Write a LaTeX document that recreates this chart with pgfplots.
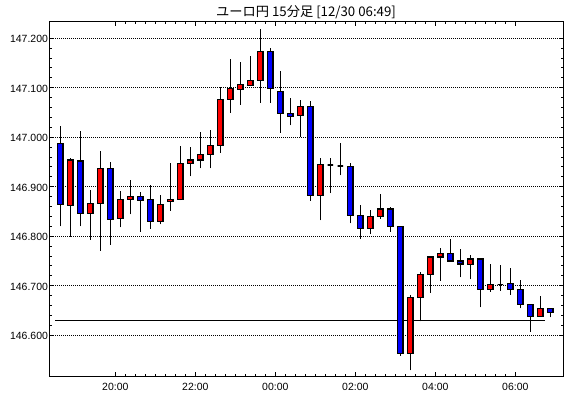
\documentclass[border=0pt]{standalone}
\usepackage{pgfplots}
\pgfplotsset{compat=1.18}
\usepackage{pgfplotstable}
\usepackage{fontspec}
\setmainfont{Liberation Sans}
\newfontfamily\jpfont{Noto Sans CJK JP}
\definecolor{cred}{RGB}{255,0,0}
\definecolor{cblue}{RGB}{0,0,255}
\pgfdeclareplotmark{nothing}{}
\pgfplotstableread{
x o h l c
0 146.988 147.023 146.820 146.865
1 146.863 146.958 146.798 146.954
2 146.952 147.013 146.820 146.846
3 146.846 146.894 146.793 146.867
4 146.867 146.972 146.771 146.937
5 146.937 146.950 146.783 146.834
6 146.836 146.892 146.818 146.875
7 146.875 146.914 146.844 146.881
8 146.881 146.889 146.809 146.873
9 146.875 146.904 146.815 146.830
10 146.830 146.884 146.824 146.865
11 146.871 146.947 146.852 146.875
12 146.875 146.982 146.873 146.947
13 146.947 146.980 146.921 146.954
14 146.954 147.010 146.937 146.966
15 146.966 147.015 146.937 146.984
16 146.984 147.101 146.969 147.077
17 147.077 147.158 147.050 147.099
18 147.097 147.152 147.066 147.107
19 147.105 147.164 147.103 147.115
20 147.115 147.219 147.070 147.174
21 147.174 147.180 147.070 147.099
22 147.093 147.133 147.009 147.048
23 147.048 147.079 147.024 147.042
24 147.044 147.075 147.000 147.063
25 147.063 147.073 146.872 146.883
26 146.883 146.958 146.832 146.945
27 146.944 146.958 146.887 146.944
28 146.942 146.988 146.923 146.942
29 146.941 146.947 146.826 146.842
30 146.842 146.863 146.794 146.816
31 146.816 146.853 146.804 146.840
32 146.839 146.886 146.835 146.855
33 146.855 146.859 146.809 146.819
34 146.819 146.821 146.559 146.563
35 146.563 146.682 146.529 146.676
36 146.676 146.728 146.628 146.722
37 146.722 146.760 146.686 146.758
38 146.758 146.777 146.710 146.766
39 146.766 146.795 146.748 146.750
40 146.750 146.775 146.717 146.744
41 146.742 146.762 146.713 146.754
42 146.754 146.756 146.656 146.692
43 146.692 146.744 146.688 146.702
44 146.703 146.742 146.690 146.703
45 146.704 146.736 146.682 146.692
46 146.692 146.712 146.654 146.662
47 146.662 146.664 146.607 146.638
48 146.638 146.680 146.638 146.654
49 146.654 146.654 146.636 146.646
}\candles
\begin{document}
\begin{tikzpicture}
\useasboundingbox (0bp,0bp) rectangle (570bp,398bp);
\begin{axis}[
  at={(49.3bp,21.7bp)}, anchor=south west,
  scale only axis, width=513.7bp, height=354.6bp,
  xmin=-1.1, xmax=50.27, ymin=146.517, ymax=147.2335,
  axis line style={line width=1bp},
  tick align=inside,
  xtick pos=both, ytick pos=both,
  xticklabel pos=lower, yticklabel pos=left,
  major tick length=4.5bp, minor tick length=2.5bp,
  every tick/.style={black, line width=1bp},
  xtick={5.5,13.5,21.5,29.5,37.5,45.5},
  xticklabels={20:00,22:00,00:00,02:00,04:00,06:00},
  minor x tick num=7,
  ytick={146.6,146.7,146.8,146.9,147.0,147.1,147.2},
  yticklabels={146.600,146.700,146.800,146.900,147.000,147.100,147.200},
  minor y tick num=4,
  ymajorgrids,
  major grid style={black, line width=0.9bp, dash pattern=on 1bp off 1bp},
  tick label style={font=\fontsize{10.5}{12}\selectfont},
  yticklabel style={anchor=east, inner sep=0pt, xshift=-1.2bp, yshift=-1bp},
  xticklabel style={yshift=-3bp},
]
\addplot[scatter, only marks, mark=nothing,
  visualization depends on={(\thisrow{c}-\thisrow{o})*494.9 \as \dc},
  visualization depends on={(\thisrow{h}-\thisrow{o})*494.9 \as \dh},
  visualization depends on={(\thisrow{l}-\thisrow{o})*494.9 \as \dl},
  scatter/@pre marker code/.code={%
    \draw[black, line width=1.1bp] (0bp,\dl bp) -- (0bp,\dh bp);
    \ifdim \dc pt>0pt \def\fc{cred}\else\def\fc{cblue}\fi
    \filldraw[fill=\fc, draw=black, line width=1.1bp] (-2.7bp,0bp) rectangle (2.7bp,\dc bp);
  },
  scatter/@post marker code/.code={},
] table[x=x, y=o] {\candles};
\addplot[black, line width=1bp, mark=none] coordinates {(-0.5,146.629) (48.5,146.629)};
\end{axis}
\node[font=\jpfont\fontsize{13.3}{15}\selectfont] at (306bp,385.5bp) {ユーロ円 15分足 [12/30 06:49]};
\end{tikzpicture}
\end{document}
